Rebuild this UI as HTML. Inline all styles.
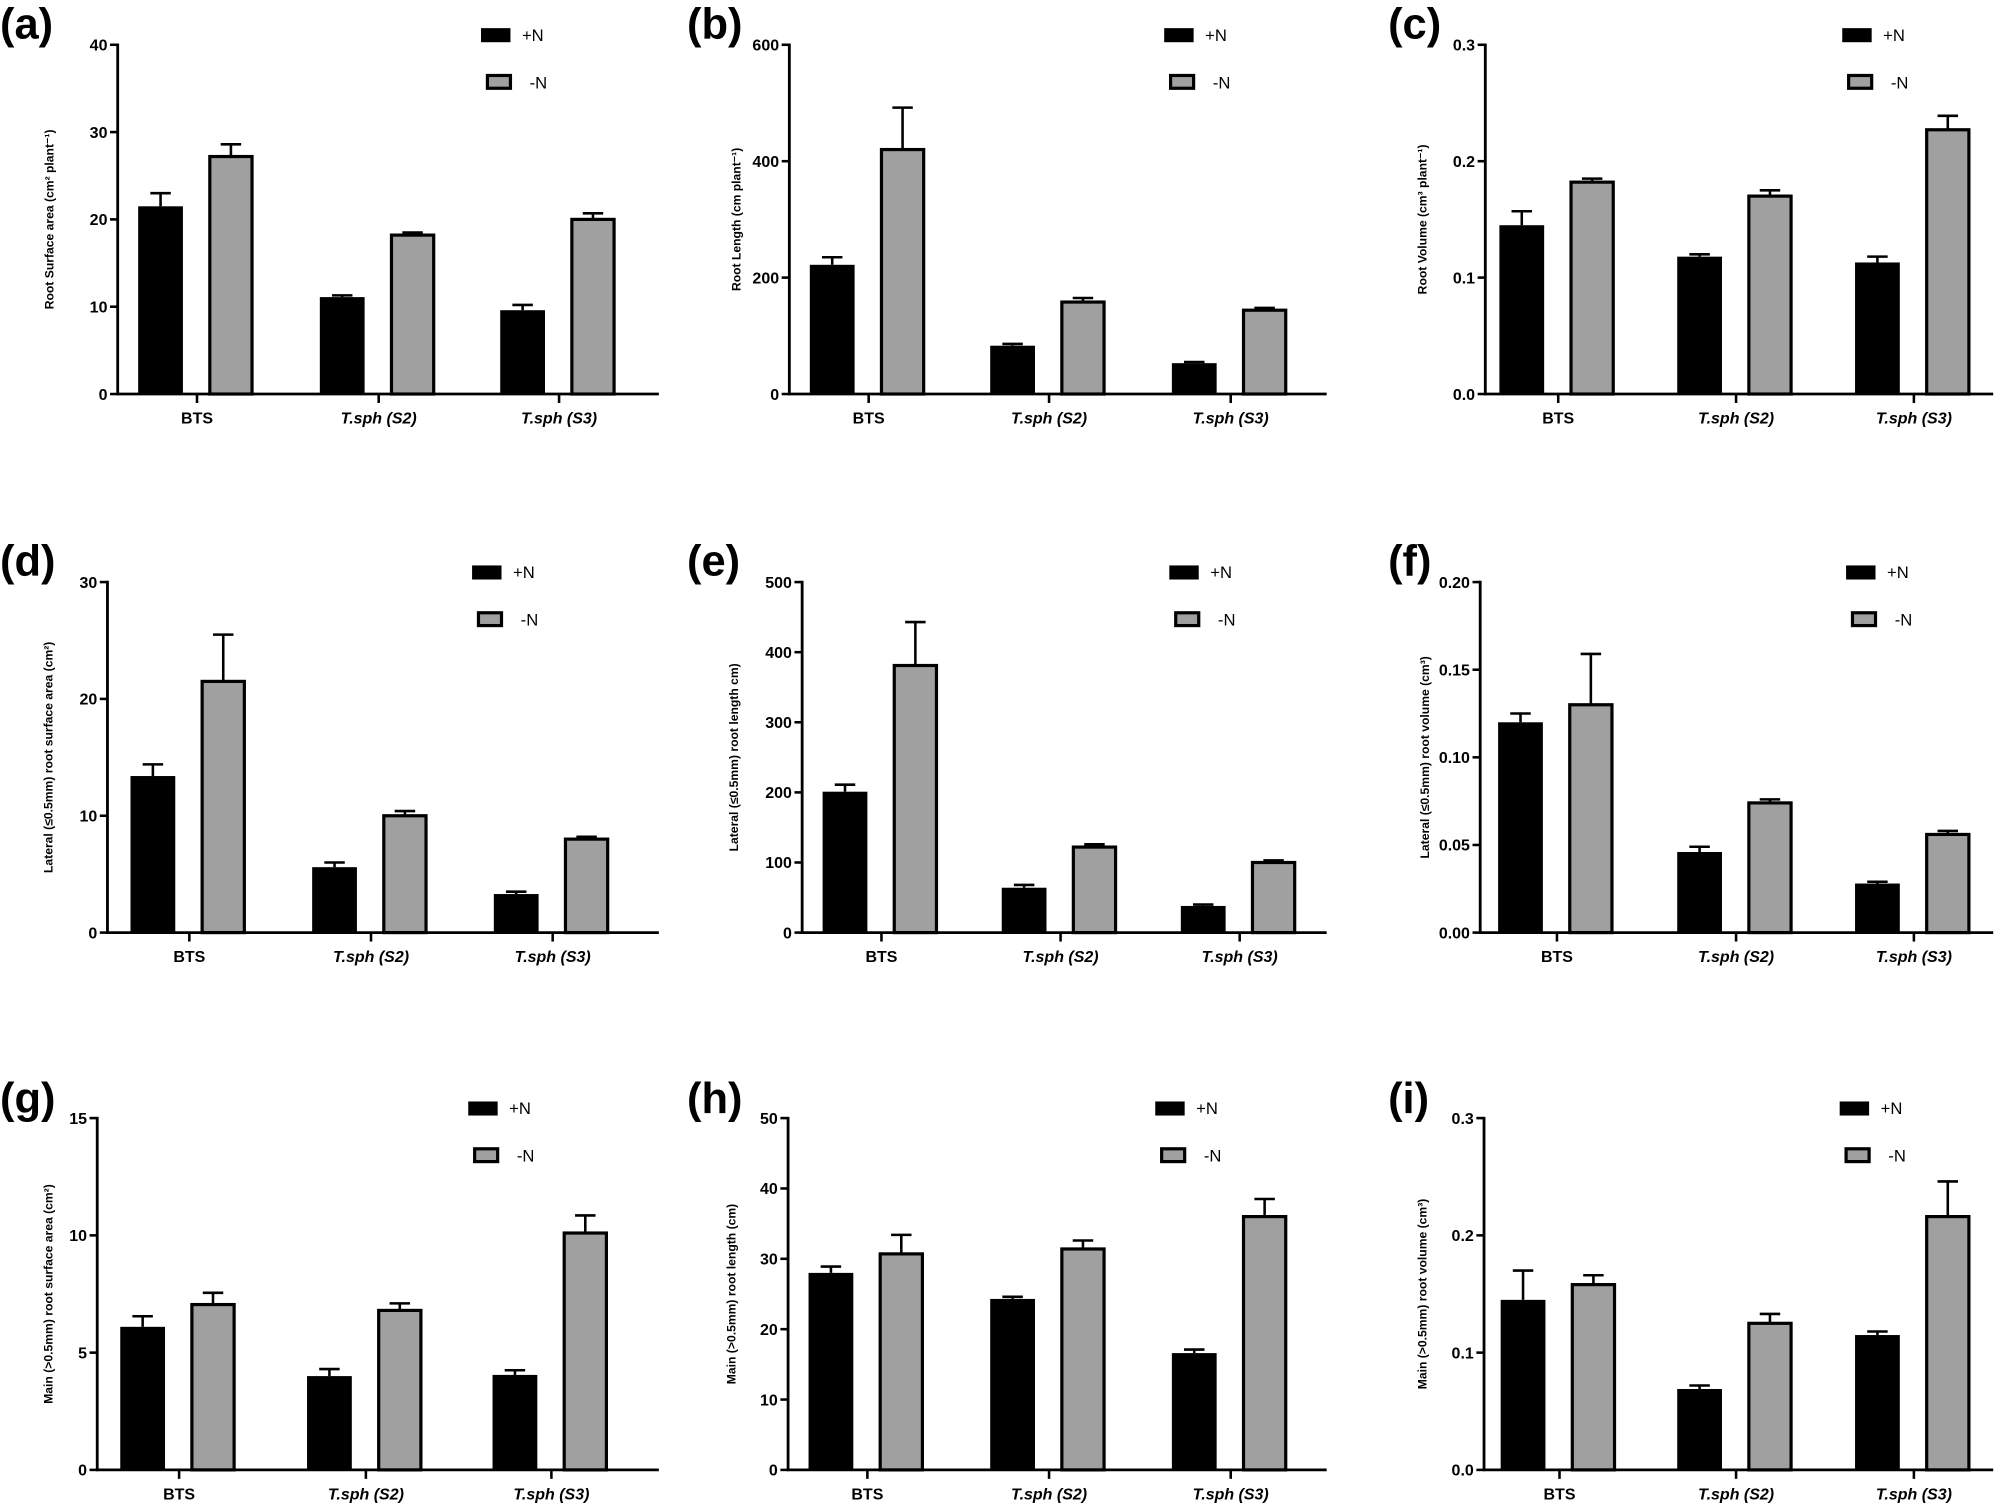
<!DOCTYPE html>
<html><head><meta charset="utf-8"><style>
html,body{margin:0;padding:0;background:#fff}
svg{display:block}
text{font-family:"Liberation Sans",Arial,sans-serif;font-weight:bold}
</style></head><body>
<svg id="s" width="2006" height="1507" viewBox="0 0 1568 1178" preserveAspectRatio="none" xmlns="http://www.w3.org/2000/svg"></svg>
<script>
var P=[
{l:"(a)",lx:0,ly:30,ax:92,ae:515,yt:35,y0:308,t:[154,296,437],max:40,tk:[0,10,20,30,40],dec:0,yl:"Root Surface area (cm\u00B2 plant\u207B\u00B9)",ylx:42,lg:[376,22],
 v:[[21.5,1.5],[27.2,1.4],[11.1,0.2],[18.2,0.3],[9.6,0.6],[20,0.7]]},
{l:"(b)",lx:537,ly:30,ax:617,ae:1037,yt:35,y0:308,t:[679,820,962],max:600,tk:[0,200,400,600],dec:0,yl:"Root Length (cm plant\u207B\u00B9)",ylx:579,lg:[910,22],
 v:[[222,13],[420,72],[83,3],[158,7],[53,2],[144,4]]},
{l:"(c)",lx:1085,ly:30,ax:1161,ae:1558,yt:35,y0:308,t:[1218,1357,1496],max:0.3,tk:[0,0.1,0.2,0.3],dec:1,yl:"Root Volume (cm\u00B3 plant\u207B\u00B9)",ylx:1115,lg:[1440,22],
 v:[[0.145,0.012],[0.182,0.003],[0.118,0.002],[0.170,0.005],[0.113,0.005],[0.227,0.012]]},
{l:"(d)",lx:0,ly:450,ax:84,ae:515,yt:455,y0:729,t:[148,290,432],max:30,tk:[0,10,20,30],dec:0,yl:"Lateral (\u22640.5mm) root surface area (cm\u00B2)",ylx:41,lg:[369,442],
 v:[[13.4,1],[21.5,4],[5.6,0.4],[10,0.4],[3.3,0.2],[8,0.2]]},
{l:"(e)",lx:537,ly:450,ax:627,ae:1037,yt:455,y0:729,t:[689,829,969],max:500,tk:[0,100,200,300,400,500],dec:0,yl:"Lateral (\u22640.5mm) root length cm)",ylx:577,lg:[914,442],
 v:[[201,10],[381,62],[64,4],[122,4],[38,2],[100,3]]},
{l:"(f)",lx:1085,ly:450,ax:1157,ae:1558,yt:455,y0:729,t:[1217,1357,1496],max:0.2,tk:[0,0.05,0.1,0.15,0.2],dec:2,yl:"Lateral (\u22640.5mm) root volume (cm\u00B3)",ylx:1117,lg:[1443,442],
 v:[[0.12,0.005],[0.13,0.029],[0.046,0.003],[0.074,0.002],[0.028,0.001],[0.056,0.002]]},
{l:"(g)",lx:0,ly:870,ax:76,ae:515,yt:874,y0:1149,t:[140,286,431],max:15,tk:[0,5,10,15],dec:0,yl:"Main (>0.5mm) root surface area (cm\u00B2)",ylx:41,lg:[366,861],
 v:[[6.1,0.45],[7.05,0.5],[4.0,0.3],[6.8,0.3],[4.05,0.2],[10.1,0.75]]},
{l:"(h)",lx:537,ly:870,ax:616,ae:1037,yt:874,y0:1149,t:[678,820,962],max:50,tk:[0,10,20,30,40,50],dec:0,yl:"Main (>0.5mm) root length (cm)",ylx:575,lg:[903,861],
 v:[[28,0.9],[30.7,2.7],[24.3,0.3],[31.4,1.2],[16.6,0.5],[36,2.5]]},
{l:"(i)",lx:1085,ly:870,ax:1160,ae:1558,yt:874,y0:1149,t:[1219,1357,1496],max:0.3,tk:[0,0.1,0.2,0.3],dec:1,yl:"Main (>0.5mm) root volume (cm\u00B3)",ylx:1115,lg:[1438,861],
 v:[[0.145,0.025],[0.158,0.008],[0.069,0.003],[0.125,0.008],[0.115,0.003],[0.216,0.03]]}
];
var h="";
var cats=[["BTS",""],["T.sph (S2)","italic"],["T.sph (S3)","italic"]];
P.forEach(function(p){
 function Y(v){return p.y0-(v/p.max)*(p.y0-p.yt);}
 h+='<text x="'+p.lx+'" y="'+p.ly+'" font-size="34" style="font-family:\'Liberation Sans Narrow\',\'Liberation Sans\',sans-serif">'+p.l+'</text>';
 // bars
 p.v.forEach(function(d,i){
  var c=Math.floor(i/2),g=i%2,t=p.t[c];
  var x=g?t+9:t-46,w=35,y=Y(d[0]),ye=Y(d[0]+d[1]),cx=x+w/2;
  h+='<line x1="'+cx+'" x2="'+cx+'" y1="'+y+'" y2="'+ye+'" stroke="#000" stroke-width="2"/>';
  h+='<line x1="'+(cx-8)+'" x2="'+(cx+8)+'" y1="'+ye+'" y2="'+ye+'" stroke="#000" stroke-width="2"/>';
  if(g) h+='<rect x="'+(x+1)+'" y="'+y+'" width="'+(w-2)+'" height="'+(p.y0-y)+'" fill="#a0a0a0" stroke="#000" stroke-width="2.5"/>';
  else h+='<rect x="'+x+'" y="'+y+'" width="'+w+'" height="'+(p.y0-y)+'" fill="#000"/>';
 });
 // axes
 h+='<line x1="'+p.ax+'" x2="'+p.ax+'" y1="'+(p.yt-1)+'" y2="'+(p.y0+1)+'" stroke="#000" stroke-width="2.2"/>';
 h+='<line x1="'+(p.ax-1)+'" x2="'+p.ae+'" y1="'+p.y0+'" y2="'+p.y0+'" stroke="#000" stroke-width="2.2"/>';
 p.tk.forEach(function(v){var y=Y(v);
  h+='<line x1="'+(p.ax-6)+'" x2="'+p.ax+'" y1="'+y+'" y2="'+y+'" stroke="#000" stroke-width="2"/>';
  h+='<text x="'+(p.ax-8)+'" y="'+(y+4.5)+'" font-size="12.5" text-anchor="end">'+v.toFixed(p.dec)+'</text>';});
 p.t.forEach(function(t,i){
  h+='<line x1="'+t+'" x2="'+t+'" y1="'+p.y0+'" y2="'+(p.y0+7)+'" stroke="#000" stroke-width="2"/>';
  h+='<text x="'+t+'" y="'+(p.y0+23)+'" font-size="12.5" text-anchor="middle" font-style="'+(cats[i][1]||'normal')+'">'+cats[i][0]+'</text>';});
 var my=(p.yt+p.y0)/2;
 h+='<text transform="translate('+p.ylx+','+my+') rotate(-90)" font-size="9.5" text-anchor="middle">'+p.yl+'</text>';
 var lx=p.lg[0],ly=p.lg[1];
 h+='<rect x="'+lx+'" y="'+ly+'" width="23" height="11" fill="#000"/>';
 h+='<text x="'+(lx+32)+'" y="'+(ly+10)+'" font-size="13" font-weight="normal" style="font-weight:normal">+N</text>';
 h+='<rect x="'+(lx+5)+'" y="'+(ly+37)+'" width="18" height="10" fill="#a0a0a0" stroke="#000" stroke-width="2.5"/>';
 h+='<text x="'+(lx+38)+'" y="'+(ly+47)+'" font-size="13" style="font-weight:normal">-N</text>';
});
document.getElementById("s").innerHTML=h;
</script>
</body></html>
